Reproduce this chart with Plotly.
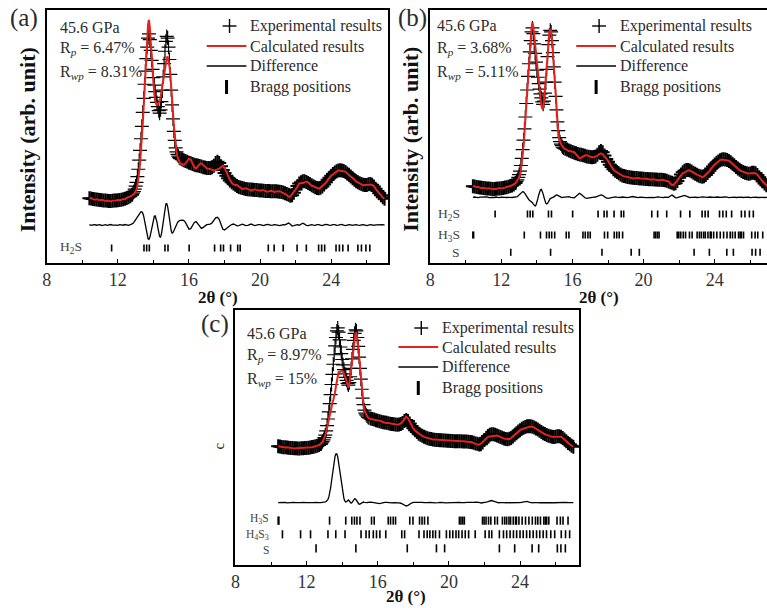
import numpy as np
import plotly.graph_objects as go

W, H = 767, 608
FONT = "Liberation Serif"
INK = "#2b2b2b"

# ---------------------------------------------------------------------------
# 2-theta sampling: 0.1 deg on the background, 0.05 deg across the two strong peaks
TT_LOW = np.round(np.arange(10.4, 12.8001, 0.1), 2)    # 25 points
TT_PEAK = np.round(np.arange(12.85, 15.5001, 0.05), 2)  # 54 points
TT_HIGH = np.round(np.arange(15.6, 27.0001, 0.1), 2)   # 115 points

# Observed intensity at 45.6 GPa (arb. unit, strongest peak = 100)
OBS_LOW = [0.5, 0.3, 0.0, -0.2, -0.3, -0.5, -0.6, -0.8, -0.9, -1.0,
           -1.1, -1.2, -1.2, -1.1, -1.0, -0.9, -0.8, -0.6, -0.4, -0.1,
           0.2, 0.6, 1.0, 1.6, 2.5]
OBS_PEAK = [3.5, 4.5, 6.0, 7.8, 10.0, 13.5, 18.0, 23.5, 29.5, 36.5,
            44.0, 52.5, 61.0, 69.5, 77.5, 85.0, 92.0, 97.5, 100.0, 96.5,
            90.0, 84.0, 78.5, 73.5, 69.0, 65.0, 61.5, 58.5, 56.0, 53.5,
            52.0, 54.0, 59.0, 66.0, 74.0, 82.0, 89.5, 95.5, 98.5, 97.5,
            92.0, 84.5, 75.5, 66.0, 57.0, 48.5, 41.0, 35.5, 31.0, 28.5,
            27.0, 26.0, 25.0, 24.5]
OBS_HIGH = [24.0, 23.5, 23.0, 22.5, 22.0, 21.6, 21.2, 20.8, 20.5, 20.3,
            20.0, 19.6, 19.2, 19.0, 18.8, 18.7, 18.8, 19.2, 20.2, 21.8,
            22.6, 21.8, 19.8, 17.6, 15.8, 14.0, 12.5, 11.2, 10.2, 9.4,
            8.6, 7.9, 7.3, 6.9, 6.6, 6.3, 6.1, 5.9, 5.8, 5.7,
            5.6, 5.5, 5.4, 5.3, 5.2, 5.1, 5.0, 4.9, 4.8, 4.8,
            4.7, 4.7, 4.6, 4.6, 4.5, 4.4, 4.2, 3.9, 3.5, 3.0,
            2.6, 2.0, 2.3, 3.8, 5.8, 7.8, 9.3, 10.2, 10.7, 10.7,
            10.3, 9.7, 9.0, 8.3, 7.7, 7.1, 6.7, 6.5, 6.8, 7.6,
            8.8, 10.2, 11.6, 12.9, 14.1, 15.2, 16.1, 16.8, 17.3, 17.4,
            17.3, 16.9, 16.3, 15.5, 14.6, 13.6, 12.6, 11.6, 10.8, 10.1,
            9.5, 9.0, 8.6, 8.4, 8.5, 8.9, 9.0, 8.6, 7.6, 6.2,
            4.8, 3.4, 2.2, 1.1, 0.2]

# Difference (observed - calculated) for the three refinements
# (a) H2S only
DIFF_A_LOW = [0.2, -0.2, 0.1, 0.3, -0.1, 0.0, 0.2, -0.3, 0.1, 0.2,
              -0.2, 0.0, 0.3, -0.1, 0.1, 0.0, -0.2, 0.2, 0.1, -0.1,
              0.3, 0.0, -0.2, 0.2, 0.6]
DIFF_A_PEAK = [1.0, 1.6, 2.4, 3.3, 4.3, 5.4, 6.4, 7.2, 7.8, 8.1,
               8.0, 7.2, 5.5, 3.0, 0.0, -3.5, -6.5, -8.3, -8.6, -7.4,
               -5.0, -2.0, 1.2, 3.8, 5.3, 5.5, 4.2, 1.8, -1.5, -4.8,
               -7.0, -7.3, -5.5, -2.0, 2.5, 7.0, 10.8, 12.8, 13.0, 11.2,
               7.8, 3.5, -0.5, -3.5, -4.9, -4.6, -3.4, -1.9, -0.6, 0.5,
               1.4, 2.1, 2.6, 2.9]
DIFF_A_HIGH = [3.0, 2.9, 1.6, -0.8, -2.5, -2.2, -0.5, 1.6, 2.1, 0.8,
               -1.2, -2.0, -1.4, -0.4, 0.2, 0.4, 0.6, 1.4, 3.0, 4.4,
               4.7, 3.4, 0.5, -2.4, -3.0, -2.0, -0.8, -0.4, 0.3, 0.6,
               0.2, -0.5, -0.3, 0.2, 0.5, 0.1, -0.3, -0.2, 0.4, 0.6,
               0.1, -0.3, -0.1, 0.3, 0.2, -0.2, -0.3, 0.1, 0.4, 0.2,
               -0.2, 0.0, 0.3, 0.1, -0.2, -0.3, 0.0, 0.3, 0.1, 0.6,
               1.2, 0.5, -0.6, -0.4, 0.0, 0.2, -0.1, 0.5, 1.1, 0.6,
               -0.2, -0.3, 0.1, 0.3, 0.0, -0.2, 0.2, 0.3, -0.1, -0.3,
               0.1, 0.4, 0.2, -0.2, -0.1, 0.3, 0.2, -0.2, -0.1, 0.3,
               0.4, 0.0, -0.3, 0.0, 0.3, 0.1, -0.2, 0.1, 0.3, 0.0,
               -0.2, 0.1, 0.3, 0.0, -0.3, 0.0, 0.3, 0.1, -0.2, 0.1,
               0.2, -0.1, 0.0, 0.2, 0.0]
# (b) H2S + H3S + S
DIFF_B_LOW = [-0.1, 0.2, 0.0, -0.2, 0.1, 0.2, -0.1, 0.0, 0.2, -0.2,
              0.1, 0.0, -0.1, 0.2, 0.0, -0.2, 0.1, 0.2, 0.0, -0.1,
              0.1, 0.0, -0.1, 0.1, 0.1]
DIFF_B_PEAK = [0.2, 0.5, 1.0, 1.6, 2.3, 2.9, 3.4, 3.6, 3.5, 3.0,
               2.1, 1.0, 0.0, -0.8, -1.5, -2.0, -2.4, -2.8, -3.4, -4.3,
               -5.2, -5.5, -4.8, -3.2, -1.0, 1.5, 3.6, 4.8, 5.0, 4.0,
               2.2, 0.0, -2.2, -3.7, -4.2, -3.8, -2.8, -1.6, -0.8, -0.5,
               -0.4, -0.1, 0.3, 0.8, 1.2, 1.5, 1.4, 1.0, 0.5, 0.1,
               -0.1, -0.2, -0.1, 0.0]
DIFF_B_HIGH = [0.2, 0.5, 0.4, 0.0, -0.4, -0.3, 0.6, 1.9, 2.5, 1.8,
               0.6, -0.3, -0.7, -0.4, -0.1, 0.0, 0.1, 0.2, 0.6, 1.2,
               1.5, 1.2, 0.3, -0.4, -0.6, -0.4, -0.1, 0.2, 0.3, 0.1,
               -0.2, -0.1, 0.2, 0.3, 0.0, -0.2, 0.1, 0.3, 0.5, 0.2,
               -0.1, -0.2, 0.1, 0.2, 0.0, -0.2, -0.1, 0.2, 0.3, 0.0,
               -0.2, 0.1, 0.3, 0.1, -0.1, -0.2, 0.1, 0.2, 0.0, 0.8,
               1.4, 0.6, -0.3, -0.2, 0.1, 0.3, 0.6, 1.2, 0.8, 0.2,
               -0.1, 0.0, 0.2, 0.1, -0.1, -0.2, 0.1, 0.3, 0.1, -0.1,
               0.0, 0.2, 0.1, -0.1, 0.0, 0.2, 0.1, -0.1, 0.0, 0.2,
               0.3, 0.1, -0.2, 0.0, 0.2, 0.1, -0.1, 0.0, 0.2, 0.1,
               -0.1, 0.0, 0.2, 0.1, -0.2, 0.0, 0.2, 0.1, -0.1, 0.0,
               0.2, 0.0, -0.1, 0.1, 0.0]
# (c) H3S + H4S3 + S
DIFF_C_LOW = [0.0, 0.2, -0.1, 0.1, 0.2, -0.2, 0.0, 0.1, -0.1, 0.2,
              0.0, -0.2, 0.1, 0.0, 0.2, -0.1, 0.1, 0.0, -0.2, 0.1,
              0.0, 0.2, -0.1, 0.0, 0.0]
DIFF_C_PEAK = [0.0, 0.1, 0.2, 0.4, 0.6, 1.0, 1.6, 2.8, 4.8, 8.0,
               12.5, 18.0, 24.0, 30.0, 35.5, 39.0, 41.0, 41.0, 38.5, 33.5,
               27.0, 20.5, 14.5, 9.5, 5.8, 3.2, 1.5, 0.6, 0.8, 1.8,
               2.3, 1.4, 0.2, -0.5, 0.0, 1.2, 2.6, 3.3, 3.0, 1.8,
               0.3, -0.8, -1.3, -1.2, -0.6, 0.0, 0.4, 0.5, 0.3, 0.0,
               -0.2, 0.0, 0.3, 0.5]
DIFF_C_HIGH = [0.5, 0.3, 0.0, -0.3, -0.6, -0.8, -0.5, 0.0, 0.3, 0.2,
               -0.1, -0.3, -0.2, 0.0, 0.1, 0.0, -0.2, -0.5, -1.2, -2.2,
               -2.8, -2.3, -1.2, -0.3, 0.2, 0.3, 0.1, -0.1, 0.0, 0.2,
               0.1, -0.1, 0.0, 0.2, 0.3, 0.1, -0.2, -0.3, 0.0, 0.2,
               0.3, 0.1, -0.2, -0.1, 0.1, 0.2, 0.0, -0.2, -0.1, 0.1,
               0.2, 0.0, -0.2, 0.0, 0.2, 0.1, -0.1, 0.0, 0.3, 0.5,
               0.6, 0.2, -0.3, -0.2, 0.1, 0.4, 0.8, 1.4, 1.8, 1.3,
               0.6, 0.1, -0.1, 0.0, 0.2, 0.1, -0.1, 0.0, 0.2, 0.1,
               -0.1, 0.0, 0.2, 0.1, 0.0, 0.3, 0.8, 1.3, 1.0, 0.4,
               0.0, -0.2, 0.0, 0.2, 0.1, -0.1, 0.0, 0.2, 0.1, -0.1,
               0.0, 0.2, 0.1, -0.1, 0.0, 0.2, 0.1, 0.0, -0.1, 0.1,
               0.2, 0.0, -0.1, 0.1, 0.0]

# Bragg reflection positions (2-theta, deg)
BRAGG_H2S = [11.65, 13.47, 13.62, 13.77, 14.65, 14.82, 16.01, 17.44, 17.78, 17.94,
             18.34, 18.74, 18.88, 20.46, 20.79, 21.30, 22.08, 22.60, 23.29, 23.46,
             23.63, 24.27, 24.46, 24.65, 24.95, 25.50, 25.70, 25.95, 26.17]
BRAGG_H3S = [10.40, 10.44, 13.29, 14.20, 14.54, 14.69, 14.83, 15.00, 15.65, 15.80,
             16.59, 16.72, 16.87, 17.00, 17.80, 17.98, 18.35, 18.49, 18.63, 18.82,
             20.59, 20.68, 20.78, 20.87, 21.89, 21.98, 22.09, 22.23, 22.36, 22.58,
             22.73, 23.01, 23.14, 23.25, 23.38, 23.47, 23.62, 23.75, 23.80, 23.94,
             24.12, 24.31, 24.50, 24.69, 24.87, 25.00, 25.15, 25.34, 25.43, 25.50,
             25.62, 26.08, 26.27, 26.42, 26.70]
BRAGG_H4S3 = [10.64, 11.66, 12.22, 13.20, 13.64, 14.16, 15.06, 15.34, 15.52, 15.75,
              15.93, 16.12, 16.45, 17.35, 17.51, 18.32, 18.60, 18.78, 18.93, 19.10,
              19.25, 19.47, 19.86, 20.05, 20.22, 20.40, 20.55, 20.74, 20.92, 21.11,
              21.48, 22.04, 22.26, 22.41, 22.84, 23.07, 23.25, 23.44, 23.63, 23.81,
              24.00, 24.18, 24.37, 24.55, 24.74, 24.93, 25.11, 25.30, 25.49, 25.73,
              25.95, 26.32, 26.56, 26.79]
BRAGG_S = [12.53, 14.77, 17.66, 19.30, 19.76, 22.84, 23.70, 24.68, 25.05, 26.10,
           26.30, 26.55]

PRESSURE = "45.6 GPa"
RP = ["6.47%", "3.68%", "8.97%"]
RWP = ["8.31%", "5.11%", "15%"]
LEGEND_LABELS = ["Experimental results", "Calculated results", "Difference", "Bragg positions"]

tt = np.concatenate([TT_LOW, TT_PEAK, TT_HIGH])
obs = np.array(OBS_LOW + OBS_PEAK + OBS_HIGH)
diffs = [np.array(DIFF_A_LOW + DIFF_A_PEAK + DIFF_A_HIGH),
         np.array(DIFF_B_LOW + DIFF_B_PEAK + DIFF_B_HIGH),
         np.array(DIFF_C_LOW + DIFF_C_PEAK + DIFF_C_HIGH)]
assert len(tt) == len(obs) and all(len(d) == len(obs) for d in diffs)
calcs = [obs - d for d in diffs]

# cross strokes: heavier on the dense background so it reads as a solid band
cross_w = np.concatenate([np.full(len(TT_LOW), 2.0),
                          np.full(len(TT_PEAK), 1.2),
                          np.full(len(TT_HIGH), 2.0)])

# ---------------------------------------------------------------------------
# Panel geometry (pixels) and per-panel plotting offsets.
# Each Bragg row: (label, positions, row centre in data units, label nudge in px)
panels = [
    dict(name="a", left=42, right=386, top=10, bottom=263, xmax=27.22, yr=[-38.8, 114.5],
         diff_off=-15.8, tick_half=2.1, mirror_y=True, row_font=13.5,
         rows=[("H<sub>2</sub>S", BRAGG_H2S, -29.7, 0)],
         row_label_x=80, info_x=53, info_y=[27, 48, 72], leg_x=245, leg_y=[26, 46, 66, 87],
         tag=(19, 18), ytitle_x=23, xtitle=(214, 298)),
    dict(name="b", left=428, right=767, top=10, bottom=263, xmax=26.94, yr=[-47.8, 111.3],
         diff_off=-6.5, tick_half=2.2, mirror_y=False, row_font=13.5,
         rows=[("H<sub>2</sub>S", BRAGG_H2S, -17.0, 0),
               ("H<sub>3</sub>S", BRAGG_H3S, -30.2, 0),
               ("S", BRAGG_S, -41.1, 0)],
         row_label_x=460, info_x=433, info_y=[26, 48, 72], leg_x=617, leg_y=[26, 46, 66, 87],
         tag=(410, 18), ytitle_x=408, xtitle=(598, 298)),
    dict(name="c", left=232, right=578, top=310, bottom=565, xmax=27.33, yr=[-99.2, 115.1],
         diff_off=-46.8, tick_half=3.4, mirror_y=True, row_font=11.5,
         rows=[("H<sub>3</sub>S", BRAGG_H3S, -61.9, -1.5),
               ("H<sub>4</sub>S<sub>3</sub>", BRAGG_H4S3, -73.4, 1),
               ("S", BRAGG_S, -85.2, 1.5)],
         row_label_x=268, info_x=242, info_y=[333, 355, 379], leg_x=438, leg_y=[328, 347, 367, 388],
         tag=(211, 324), ytitle_x=None, xtitle=(404, 596)),
]


def px(x):
    return x / W


def py(y):
    return 1 - y / H


fig = go.Figure()
annotations = []
shapes = []

for i, p in enumerate(panels):
    k = "" if i == 0 else str(i + 1)
    xa, ya = "x" + k, "y" + k

    fig.add_trace(go.Scatter(
        x=tt, y=obs, mode="markers", xaxis=xa, yaxis=ya, showlegend=False,
        marker=dict(symbol="cross-thin", size=10, color="black",
                    line=dict(width=cross_w, color="black")),
        cliponaxis=True))
    fig.add_trace(go.Scatter(
        x=tt, y=calcs[i], mode="lines", xaxis=xa, yaxis=ya, showlegend=False,
        line=dict(color="#e3231c", width=2)))
    fig.add_trace(go.Scatter(
        x=tt, y=diffs[i] + p["diff_off"], mode="lines", xaxis=xa, yaxis=ya, showlegend=False,
        line=dict(color="black", width=1.3)))

    for label, pos, row, nudge in p["rows"]:
        bx, by = [], []
        for v in pos:
            bx += [v, v, None]
            by += [row - p["tick_half"], row + p["tick_half"], None]
        fig.add_trace(go.Scatter(
            x=bx, y=by, mode="lines", xaxis=xa, yaxis=ya, showlegend=False,
            line=dict(color="black", width=1.6)))
        ypix = p["bottom"] - (row - p["yr"][0]) / (p["yr"][1] - p["yr"][0]) * (p["bottom"] - p["top"])
        annotations.append(dict(
            x=px(p["row_label_x"]), y=py(ypix + nudge), xref="paper", yref="paper",
            xanchor="right", yanchor="middle", showarrow=False, text=label,
            font=dict(family=FONT, size=p["row_font"], color="#444")))

    dom_x = [px(p["left"]), min(1.0, px(p["right"]))]
    dom_y = [py(p["bottom"]), py(p["top"])]
    fig.layout["xaxis" + k] = dict(
        domain=dom_x, range=[8, p["xmax"]], anchor=ya,
        showline=True, linecolor="black", linewidth=1.5, mirror=True,
        ticks="inside", ticklen=4, tickwidth=1.2, tickcolor="black",
        tick0=8, dtick=4, showgrid=False, zeroline=False,
        tickfont=dict(family=FONT, size=18, color="#333"),
        minor=dict(ticks="inside", dtick=2, ticklen=3, tickwidth=1, tickcolor="black", showgrid=False))
    fig.layout["yaxis" + k] = dict(
        domain=dom_y, range=p["yr"], anchor=xa,
        showline=True, linecolor="black", linewidth=1.5, mirror=p["mirror_y"],
        ticks="", showticklabels=False, showgrid=False, zeroline=False)

    # pressure and agreement factors
    info = [PRESSURE,
            "R<sub><i>p</i></sub> = " + RP[i],
            "R<sub><i>wp</i></sub> = " + RWP[i]]
    for txt, yy in zip(info, p["info_y"]):
        annotations.append(dict(
            x=px(p["info_x"]), y=py(yy), xref="paper", yref="paper",
            xanchor="left", yanchor="middle", showarrow=False, text=txt,
            font=dict(family=FONT, size=16, color=INK)))

    # legend block
    lx = p["leg_x"]
    for txt, yy in zip(LEGEND_LABELS, p["leg_y"]):
        annotations.append(dict(
            x=px(lx), y=py(yy), xref="paper", yref="paper",
            xanchor="left", yanchor="middle", showarrow=False, text=txt,
            font=dict(family=FONT, size=16, color=INK)))
    y0, y1, y2, y3 = p["leg_y"]
    cx = lx - 19
    shapes += [
        dict(type="line", xref="paper", yref="paper", x0=px(cx - 7), x1=px(cx + 7),
             y0=py(y0), y1=py(y0), line=dict(color="black", width=1.4)),
        dict(type="line", xref="paper", yref="paper", x0=px(cx), x1=px(cx),
             y0=py(y0 - 7), y1=py(y0 + 7), line=dict(color="black", width=1.4)),
        dict(type="line", xref="paper", yref="paper", x0=px(lx - 42), x1=px(lx - 2),
             y0=py(y1), y1=py(y1), line=dict(color="#e3231c", width=2)),
        dict(type="line", xref="paper", yref="paper", x0=px(lx - 42), x1=px(lx - 2),
             y0=py(y2), y1=py(y2), line=dict(color="black", width=1.5)),
        dict(type="line", xref="paper", yref="paper", x0=px(lx - 22), x1=px(lx - 22),
             y0=py(y3 - 7), y1=py(y3 + 7), line=dict(color="black", width=3)),
    ]

    # panel tag
    annotations.append(dict(
        x=px(p["tag"][0]), y=py(p["tag"][1]), xref="paper", yref="paper",
        xanchor="center", yanchor="middle", showarrow=False, text="(" + p["name"] + ")",
        font=dict(family=FONT, size=25, color=INK)))

    # axis titles
    annotations.append(dict(
        x=px(p["xtitle"][0]), y=py(p["xtitle"][1]), xref="paper", yref="paper",
        xanchor="center", yanchor="middle", showarrow=False, text="<b>2θ (°)</b>",
        font=dict(family=FONT, size=17, color="#111")))
    if p["ytitle_x"] is not None:
        annotations.append(dict(
            x=px(p["ytitle_x"]), y=py((p["top"] + p["bottom"]) / 2 + 3), xref="paper", yref="paper",
            xanchor="center", yanchor="middle", showarrow=False, textangle=-90,
            text="<b>Intensity (arb. unit)</b>",
            font=dict(family=FONT, size=22, color="#111")))

# stray rotated "c" left of panel (c)
annotations.append(dict(
    x=px(215), y=py(446), xref="paper", yref="paper", xanchor="center", yanchor="middle",
    showarrow=False, textangle=-90, text="c", font=dict(family=FONT, size=15, color=INK)))

fig.update_layout(
    width=W, height=H, margin=dict(l=0, r=0, t=0, b=0),
    paper_bgcolor="white", plot_bgcolor="white",
    showlegend=False, annotations=annotations, shapes=shapes)

fig.write_html("out.html")
